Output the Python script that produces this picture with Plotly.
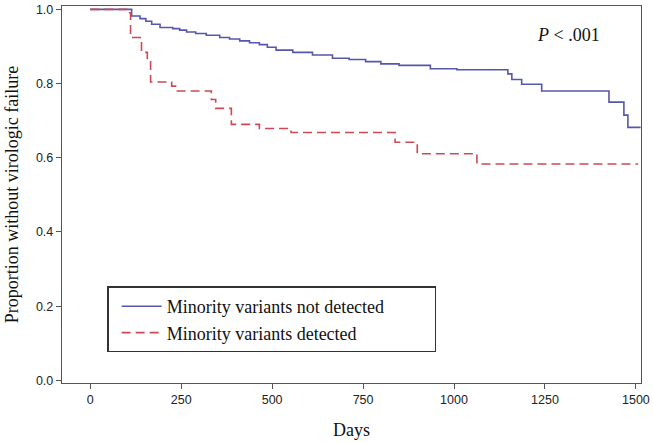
import plotly.graph_objects as go

# Kaplan-Meier step data
blue_days = [0, 114, 137, 153, 169, 192, 227, 246, 265, 290, 319, 356, 383, 411, 438, 465,
             487, 511, 557, 611, 666, 712, 757, 799, 849, 935, 1008, 1148, 1159, 1186, 1241,
             1426, 1467, 1478, 1513]
blue_surv = [1.0, 0.982, 0.975, 0.968, 0.960, 0.951, 0.948, 0.944, 0.939, 0.935, 0.930, 0.924,
             0.920, 0.915, 0.910, 0.905, 0.898, 0.890, 0.884, 0.877, 0.868, 0.865, 0.859, 0.853,
             0.849, 0.840, 0.837, 0.826, 0.811, 0.798, 0.780, 0.750, 0.715, 0.682, 0.682]

red_days = [0, 100, 111, 141, 157, 166, 224, 237, 333, 345, 388, 465, 552, 838, 899, 1063, 1506]
red_surv = [1.0, 0.991, 0.924, 0.884, 0.862, 0.804, 0.793, 0.780, 0.757, 0.733, 0.690, 0.679,
            0.668, 0.642, 0.611, 0.583, 0.583]

x_ticks = [0, 250, 500, 750, 1000, 1250, 1500]
y_ticks = [0.0, 0.2, 0.4, 0.6, 0.8, 1.0]

series_names = ["Minority variants not detected", "Minority variants detected"]

serif = "Liberation Serif, Times New Roman, serif"
sans = "Liberation Sans, Arial, sans-serif"

# invisible padding so the legend box is as wide as in the reference
pad = "\u00a0" * 10

fig = go.Figure()
fig.add_trace(go.Scatter(x=blue_days, y=blue_surv, mode="lines", line_shape="hv",
                         name=series_names[0] + pad, legendgroup="a",
                         line=dict(color="#5557ac", width=1.6)))
fig.add_trace(go.Scatter(x=red_days, y=red_surv, mode="lines", line_shape="hv",
                         name=series_names[1], legendgroup="b",
                         line=dict(color="#cc4a55", width=1.6, dash="9px,5px")))

fig.add_annotation(x=1314, y=0.932, xref="x", yref="y", text="<i>P</i> < .001",
                   showarrow=False, font=dict(family=serif, size=18, color="#111"))

axis_common = dict(showline=True, linecolor="#555", linewidth=1.4, mirror=True,
                   ticks="outside", ticklen=5, tickcolor="#555", tickwidth=1.3,
                   showgrid=False, zeroline=False,
                   tickfont=dict(family=sans, size=12.5, color="#222"))

fig.update_xaxes(range=[-77.5, 1514], tickvals=x_ticks,
                 title=dict(text="Days", font=dict(family=serif, size=18, color="#111"), standoff=17),
                 **axis_common)
fig.update_yaxes(range=[-0.007, 1.009], tickvals=y_ticks, tickformat=".1f",
                 title=dict(text="Proportion without virologic failure",
                            font=dict(family=serif, size=18, color="#111"), standoff=12),
                 **axis_common)

fig.update_layout(
    width=653, height=443,
    margin=dict(l=62, r=10, t=3, b=60),
    paper_bgcolor="white", plot_bgcolor="white",
    showlegend=True,
    legend=dict(x=0.078, y=0.256, xanchor="left", yanchor="top",
                bordercolor="#333", borderwidth=1.5, bgcolor="white",
                font=dict(family=serif, size=18, color="#111"),
                traceorder="grouped", tracegroupgap=0, indentation=8,
                itemwidth=40),
)

fig.write_html("out.html", config={"displayModeBar": False},
               post_script="document.body.style.margin='0px';document.body.style.overflow='hidden';")
